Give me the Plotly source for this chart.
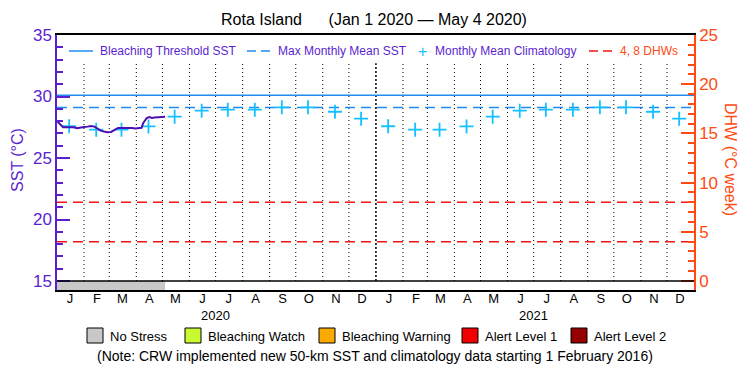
import plotly.graph_objects as go
import pandas as pd

# ---------------- data ----------------
title_text = "Rota Island      (Jan 1 2020 \u2014 May 4 2020)"

sst_dates = ["2020-01-01", "2020-01-03", "2020-01-05", "2020-01-08", "2020-01-12", "2020-01-16",
             "2020-01-20", "2020-01-24", "2020-01-28", "2020-02-01", "2020-02-05", "2020-02-09",
             "2020-02-13", "2020-02-16", "2020-02-20", "2020-02-24", "2020-02-28", "2020-03-03",
             "2020-03-07", "2020-03-11", "2020-03-15", "2020-03-19", "2020-03-23", "2020-03-27",
             "2020-03-31", "2020-04-04", "2020-04-07", "2020-04-09", "2020-04-11", "2020-04-13",
             "2020-04-16", "2020-04-19", "2020-04-22", "2020-04-26", "2020-04-30", "2020-05-04"]
sst_values = [28.0, 27.85, 27.66, 27.5, 27.5, 27.52,
              27.5, 27.42, 27.5, 27.52, 27.55, 27.6,
              27.55, 27.38, 27.22, 27.15, 27.1, 27.12,
              27.3, 27.44, 27.44, 27.46, 27.44, 27.44,
              27.4, 27.44, 27.46, 27.85, 28.05, 28.25,
              28.33, 28.25, 28.3, 28.33, 28.35, 28.36]

clim_months = [1, 2, 3, 4, 5, 6, 7, 8, 9, 10, 11, 12]
clim_values = [27.58, 27.3, 27.3, 27.57, 28.36, 28.85, 28.93, 28.93, 29.12, 29.12, 28.76, 28.2]
years = [2020, 2021]
month_letters = ["J", "F", "M", "A", "M", "J", "J", "A", "S", "O", "N", "D"]

bleaching_threshold = 30.1
max_monthly_mean = 29.1
dhw_levels = [4, 8]

stress_start = "2020-01-01"
stress_end = "2020-05-04"
stress_labels = ["No Stress", "Bleaching Watch", "Bleaching Warning", "Alert Level 1", "Alert Level 2"]
stress_colors = ["#C8C8C8", "#C8FA32", "#FAAA00", "#F00000", "#960000"]

x_start, x_end = "2020-01-01", "2022-01-01"
sst_range = [14.268, 35]
dhw_range = [(sst_range[0] - 15) * 1.25, 25]

# ---------------- style ----------------
PURPLE = "#5B1FCF"
LINE_PURPLE = "#4B10B4"
ORANGE = "#FF4A12"
BLUE = "#1E8CF0"
CYAN = "#14C0FF"
DHW_RED = "#F01414"
FONT = "Liberation Sans"

W, H = 750, 375
L, R, T, B = 57, 56, 35, 85
PW, PH = W - L - R, H - T - B


def px(xp):
    return (xp - L) / PW


def py(yp):
    return (H - B - yp) / PH


fig = go.Figure()

# stress bar
stress_x = [stress_start, stress_end, stress_end, stress_start, stress_start]
stress_y = [sst_range[0], sst_range[0], 15, 15, sst_range[0]]
fig.add_trace(go.Scatter(x=stress_x, y=stress_y, fill="toself", fillcolor=stress_colors[0],
                         line=dict(width=0), mode="lines", hoverinfo="skip", showlegend=False))

# threshold + MMM
fig.add_trace(go.Scatter(x=[x_start, x_end], y=[bleaching_threshold] * 2, mode="lines",
                         line=dict(color=BLUE, width=1.5), showlegend=False))
fig.add_trace(go.Scatter(x=[x_start, x_end], y=[max_monthly_mean] * 2, mode="lines",
                         line=dict(color=BLUE, width=1.5, dash="10px,6px"), showlegend=False))

# DHW levels
for lv in dhw_levels:
    fig.add_trace(go.Scatter(x=[x_start, x_end], y=[lv, lv], mode="lines", yaxis="y2",
                             line=dict(color=DHW_RED, width=1.5, dash="10px,6px"), showlegend=False))

# climatology crosses
clim_x, clim_y = [], []
for yr in years:
    for m, v in zip(clim_months, clim_values):
        clim_x.append(f"{yr}-{m:02d}-15")
        clim_y.append(v)
fig.add_trace(go.Scatter(x=clim_x, y=clim_y, mode="markers",
                         marker=dict(symbol="cross-thin", size=10, line=dict(color=CYAN, width=1.8)),
                         showlegend=False))

# SST line
fig.add_trace(go.Scatter(x=sst_dates, y=sst_values, mode="lines",
                         line=dict(color=LINE_PURPLE, width=2), showlegend=False))

# month boundary dotted lines
month_starts = pd.date_range("2020-02-01", "2021-12-01", freq="MS")
for d in month_starts:
    is_year = d.month == 1
    fig.add_shape(type="line", x0=d, x1=d, y0=15, y1=32.7, xref="x", yref="y",
                  line=dict(color="black", width=1.5 if is_year else 1,
                            dash="2px,2px" if is_year else "1px,3px"), layer="below")

# black line at 15
fig.add_shape(type="line", x0=0, x1=1, xref="paper", y0=15, y1=15, yref="y",
              line=dict(color="black", width=1.5))

# tick labels for months
tick_vals = []
tick_text = []
for yr in years:
    for m, lt in zip(clim_months, month_letters):
        tick_vals.append(f"{yr}-{m:02d}-16")
        tick_text.append(lt)

fig.update_layout(
    width=W, height=H,
    margin=dict(l=L, r=R, t=T, b=B),
    paper_bgcolor="white", plot_bgcolor="white",
    font=dict(family=FONT),
    showlegend=False,
    xaxis=dict(type="date", range=[x_start, x_end], showgrid=False, zeroline=False,
               showline=True, linecolor="black", linewidth=1.5, mirror=True,
               tickvals=tick_vals, ticktext=tick_text, ticks="", automargin=False,
               ticklabelstandoff=-4,
               tickfont=dict(size=13, color="black", family=FONT)),
    yaxis=dict(range=sst_range, showgrid=False, zeroline=False, showline=True, automargin=False,
               linecolor=PURPLE, linewidth=1.5, ticks="inside", ticklen=13, tickwidth=1.5,
               tickcolor=PURPLE, tickvals=[15, 20, 25, 30, 35],
               tickfont=dict(size=17, color=PURPLE, family=FONT),
               minor=dict(ticks="inside", ticklen=6, tickwidth=1.5, tickcolor=PURPLE,
                          tickvals=list(range(16, 35)))),
    yaxis2=dict(range=dhw_range, overlaying="y", side="right", showgrid=False, zeroline=False,
                showline=True, linecolor=ORANGE, linewidth=1.5, ticks="inside", ticklen=13,
                tickwidth=1.5, tickcolor=ORANGE, tickvals=[0, 5, 10, 15, 20, 25], automargin=False,
                tickfont=dict(size=17, color=ORANGE, family=FONT),
                minor=dict(ticks="inside", ticklen=6, tickwidth=1.5, tickcolor=ORANGE,
                           tickvals=list(range(1, 25)))),
)

ann = []


def add_text(text, xp, yp, size, color, xanchor="center", textangle=0, xref="paper", xval=None):
    ann.append(dict(text=text, x=px(xp) if xval is None else xval, y=py(yp),
                    xref=xref, yref="paper", xanchor=xanchor, yanchor="middle",
                    textangle=textangle, showarrow=False,
                    font=dict(size=size, color=color, family=FONT)))


# title
add_text(title_text, 374, 20, 16, "black")
# axis titles
add_text("SST (\u00b0C)", 17, 160, 16, PURPLE, textangle=-90)
add_text("DHW (\u00b0C week)", 731, 159, 16, ORANGE, textangle=90)
# years
for yr in years:
    add_text(str(yr), 0, 315, 13, "black", xref="x", xval=f"{yr}-07-01")

# top legend
ly = py(51)
fig.add_shape(type="line", x0=px(69), x1=px(93), y0=ly, y1=ly, xref="paper", yref="paper",
              line=dict(color=BLUE, width=1.5))
add_text("Bleaching Threshold SST", 98, 51, 12, PURPLE, xanchor="left")
fig.add_shape(type="line", x0=px(247), x1=px(270), y0=ly, y1=ly, xref="paper", yref="paper",
              line=dict(color=BLUE, width=1.5, dash="9px,5px"))
add_text("Max Monthly Mean SST", 276, 51, 12, PURPLE, xanchor="left")
add_text("+", 422, 51, 16, CYAN)
add_text("Monthly Mean Climatology", 433, 51, 12, PURPLE, xanchor="left")
fig.add_shape(type="line", x0=px(589), x1=px(612), y0=ly, y1=ly, xref="paper", yref="paper",
              line=dict(color=DHW_RED, width=1.5, dash="9px,5px"))
add_text("4, 8 DHWs", 618, 51, 12, ORANGE, xanchor="left")

# bottom stress legend
box_x = [87, 185, 319, 462, 571]
by0, by1 = py(343), py(328)
for bx, lab, col in zip(box_x, stress_labels, stress_colors):
    fig.add_shape(type="rect", x0=px(bx), x1=px(bx + 16), y0=by0, y1=by1,
                  xref="paper", yref="paper", fillcolor=col, line=dict(color="black", width=1))
    add_text(lab, bx + 21, 336, 13, "black", xanchor="left")

add_text("(Note: CRW implemented new 50-km SST and climatology data starting 1 February 2016)",
         375, 356, 14, "black")

fig.update_layout(annotations=ann)
fig.write_html("out.html", config=dict(displayModeBar=False),
               post_script="document.body.style.margin='0';")
